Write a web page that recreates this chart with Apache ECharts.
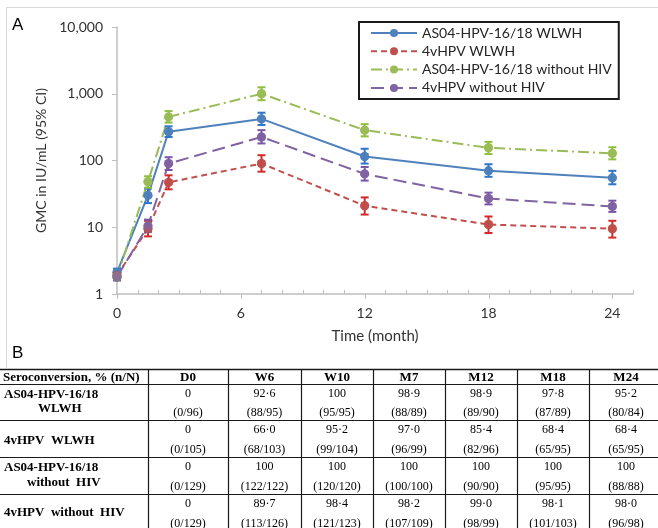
<!DOCTYPE html>
<html><head><meta charset="utf-8">
<script src="https://cdn.jsdelivr.net/npm/echarts@6/dist/echarts.min.js"></script>
<style>html,body{margin:0;padding:0;background:#fff}#c{width:658px;height:528px}</style>
</head><body><div id="c"></div>
<script>
// ---------- chart data ----------
const months = [0, 1.5, 2.5, 7, 12, 18, 24];
const seriesNames = ['AS04-HPV-16/18 WLWH', '4vHPV WLWH', 'AS04-HPV-16/18 without HIV', '4vHPV without HIV'];
const gmcAS04WLWH = [2.1, 30, 270, 420, 115, 70, 55];
const loAS04WLWH  = [1.9, 23, 225, 340, 90, 57, 44];
const hiAS04WLWH  = [2.4, 38, 325, 520, 150, 88, 70];
const gmc4vWLWH   = [1.9, 9.5, 47, 90, 21, 11, 9.5];
const lo4vWLWH    = [1.7, 7.3, 37, 68, 15.5, 8.2, 7];
const hi4vWLWH    = [2.1, 12.5, 60, 120, 28, 14.5, 12.5];
const gmcAS04Neg  = [1.8, 48, 450, 1000, 285, 155, 128];
const loAS04Neg   = [1.6, 39, 370, 800, 230, 125, 104];
const hiAS04Neg   = [2.0, 58, 550, 1250, 350, 190, 158];
const gmc4vNeg    = [1.8, 10.5, 90, 225, 63, 27, 20.5];
const lo4vNeg     = [1.6, 8.5, 72, 180, 50, 22, 17];
const hi4vNeg     = [2.0, 13, 112, 285, 80, 33, 25];
const xTicks = [0, 6, 12, 18, 24];
const xMinorTicks = [1, 2, 3, 4, 5, 7, 8, 9, 10, 11, 13, 14, 15, 16, 17, 19, 20, 21, 22, 23, 25];
const yTickLabels = {1:'1', 10:'10', 100:'100', 1000:'1,000', 10000:'10,000'};

// ---------- table data ----------
const tableHeaders = ['Seroconversion, % (n/N)', 'D0', 'W6', 'W10', 'M7', 'M12', 'M18', 'M24'];
const rowLabels = [['AS04-HPV-16/18', 'WLWH'], ['4vHPV  WLWH'], ['AS04-HPV-16/18', 'without  HIV'], ['4vHPV  without  HIV']];
const pctAS04WLWH = ['0', '92·6', '100', '98·9', '98·9', '97·8', '95·2'];
const nNAS04WLWH  = ['(0/96)', '(88/95)', '(95/95)', '(88/89)', '(89/90)', '(87/89)', '(80/84)'];
const pct4vWLWH   = ['0', '66·0', '95·2', '97·0', '85·4', '68·4', '68·4'];
const nN4vWLWH    = ['(0/105)', '(68/103)', '(99/104)', '(96/99)', '(82/96)', '(65/95)', '(65/95)'];
const pctAS04Neg  = ['0', '100', '100', '100', '100', '100', '100'];
const nNAS04Neg   = ['(0/129)', '(122/122)', '(120/120)', '(100/100)', '(90/90)', '(95/95)', '(88/88)'];
const pct4vNeg    = ['0', '89·7', '98·4', '98·2', '99·0', '98·1', '98·0'];
const nN4vNeg     = ['(0/129)', '(113/126)', '(121/123)', '(107/109)', '(98/99)', '(101/103)', '(96/98)'];

const colors = ['#4f81bd', '#c0504d', '#9bbb59', '#8064a2'];
const errColors = ['#2f75c8', '#d42a2a', '#8fbf3f', '#7a55a8'];
const dashes = ['solid', [6, 4], [11, 4, 2, 4], [13, 6]];
const gmcs = [gmcAS04WLWH, gmc4vWLWH, gmcAS04Neg, gmc4vNeg];
const los = [loAS04WLWH, lo4vWLWH, loAS04Neg, lo4vNeg];
const his = [hiAS04WLWH, hi4vWLWH, hiAS04Neg, hi4vNeg];
const pcts = [pctAS04WLWH, pct4vWLWH, pctAS04Neg, pct4vNeg];
const nNs = [nNAS04WLWH, nN4vWLWH, nNAS04Neg, nN4vNeg];

const sansFont = 'Lato';

function errSeries(idx) {
  const color = errColors[idx];
  return {
    type: 'custom', name: seriesNames[idx] + ' CI', silent: true, z: 3,
    data: months.map((m, i) => [m, los[idx][i], his[idx][i]]),
    encode: { x: 0, y: [1, 2] },
    renderItem(params, api) {
      const x = api.value(0);
      const p1 = api.coord([x, api.value(1)]);
      const p2 = api.coord([x, api.value(2)]);
      const w = 4;
      const st = { stroke: color, lineWidth: 2 };
      return { type: 'group', children: [
        { type: 'line', shape: { x1: p1[0], y1: p1[1], x2: p2[0], y2: p2[1] }, style: st },
        { type: 'line', shape: { x1: p1[0] - w, y1: p1[1], x2: p1[0] + w, y2: p1[1] }, style: st },
        { type: 'line', shape: { x1: p2[0] - w, y1: p2[1], x2: p2[0] + w, y2: p2[1] }, style: st }
      ]};
    }
  };
}

// axis tick marks (major below, minor above the axis line)
function tickSeries(list, up, down) {
  return {
    type: 'custom', name: 'ticks', silent: true, z: 1, clip: false,
    data: list.map(m => [m, 1]),
    encode: { x: 0, y: 1 },
    renderItem(params, api) {
      const p = api.coord([api.value(0), 1]);
      const x = Math.round(p[0]) + 0.5;
      return { type: 'line', shape: { x1: x, y1: p[1] - up, x2: x, y2: p[1] + down },
        style: { stroke: '#bfbfbf', lineWidth: 1 } };
    }
  };
}

const series = [];
seriesNames.forEach((name, idx) => {
  series.push({
    type: 'line', name, z: 2,
    data: months.map((m, i) => [m, gmcs[idx][i]]),
    symbol: 'circle', symbolSize: 9, showAllSymbol: true,
    itemStyle: { color: colors[idx] },
    lineStyle: { color: colors[idx], width: 2, type: dashes[idx] }
  });
});
seriesNames.forEach((name, idx) => series.push(errSeries(idx)));
seriesNames.forEach((name, idx) => {
  series.push({
    type: 'scatter', name: name + ' pt', z: 4, silent: true,
    data: months.map((m, i) => [m, gmcs[idx][i]]),
    symbol: 'circle', symbolSize: 9, itemStyle: { color: colors[idx] }
  });
});
series.push(tickSeries(xTicks, 0, 5));
series.push(tickSeries(xMinorTicks, 4, 0));

// ---------- table graphic ----------
const colX = [0, 148, 228, 301, 373, 445, 517, 589, 663];
const rowY = [369, 384, 420, 457, 494, 531];
const g = [];
g.push({ type: 'line', shape: { x1: 6, y1: 7.5, x2: 658, y2: 7.5 }, style: { stroke: '#d9d9d9', lineWidth: 1 } });
g.push({ type: 'line', shape: { x1: 6.5, y1: 7, x2: 6.5, y2: 368 }, style: { stroke: '#d9d9d9', lineWidth: 1 } });
g.push({ type: 'text', left: 12, top: 17, style: { text: 'A', font: '17px "Liberation Sans"', fill: '#000' } });
g.push({ type: 'text', left: 12, top: 345, style: { text: 'B', font: '17px "Liberation Sans"', fill: '#000' } });
rowY.slice(0, 5).forEach((y, i) => {
  g.push({ type: 'line', shape: { x1: 0, y1: y + 0.5, x2: 658, y2: y + 0.5 }, style: { stroke: '#1a1a1a', lineWidth: i === 0 ? 1.6 : 1.2 } });
});
colX.slice(1, 8).forEach(x => {
  g.push({ type: 'line', shape: { x1: x + 0.5, y1: rowY[0], x2: x + 0.5, y2: 528 }, style: { stroke: '#1a1a1a', lineWidth: 1.2 } });
});
tableHeaders.forEach((h, c) => {
  const cx = c === 0 ? 3 : (colX[c] + colX[c + 1]) / 2;
  g.push({ type: 'text', x: cx, y: (rowY[0] + rowY[1]) / 2 + 1,
    style: { text: h, font: 'bold 13px "Liberation Serif"', fill: '#000', align: c === 0 ? 'left' : 'center', verticalAlign: 'middle' } });
});
const labelLayout = [
  [[4, 395], [38, 409]],
  [[4, 441]],
  [[4, 468], [27, 483]],
  [[4, 513]]
];
rowLabels.forEach((lines, r) => {
  lines.forEach((t, k) => {
    const p = labelLayout[r][k];
    g.push({ type: 'text', x: p[0], y: p[1],
      style: { text: t, font: 'bold 13px "Liberation Serif"', fill: '#000', align: 'left', verticalAlign: 'middle' } });
  });
});
pcts.forEach((row, r) => {
  row.forEach((v, c) => {
    const cx = (colX[c + 1] + colX[c + 2]) / 2;
    g.push({ type: 'text', x: cx, y: rowY[r + 1] + 10,
      style: { text: v, font: '12px "Liberation Serif"', fill: '#000', align: 'center', verticalAlign: 'middle' } });
    g.push({ type: 'text', x: cx, y: rowY[r + 2] - 7.5,
      style: { text: nNs[r][c], font: '12px "Liberation Serif"', fill: '#000', align: 'center', verticalAlign: 'middle' } });
  });
});

const chart = echarts.init(document.getElementById('c'), null, { renderer: 'canvas' });
chart.setOption({
  animation: false,
  backgroundColor: '#fff',
  grid: { left: 117, right: 25, top: 27, bottom: 234, containLabel: false },
  legend: {
    data: seriesNames, orient: 'vertical', left: 359, top: 22,
    itemWidth: 46, itemHeight: 10, itemGap: 2.3,
    padding: [3, 7, 3, 11],
    borderColor: '#1a1a1a', borderWidth: 2, backgroundColor: '#fff',
    textStyle: { fontFamily: sansFont, fontSize: 14, color: '#262626', lineHeight: 16 }
  },
  xAxis: {
    type: 'value', min: 0, max: 25, interval: 1,
    name: 'Time (month)', nameLocation: 'middle', nameGap: 35,
    nameTextStyle: { fontFamily: sansFont, fontSize: 15, color: '#333' },
    axisLine: { show: true, onZero: false, lineStyle: { color: '#bfbfbf', width: 1.5 } },
    axisTick: { show: false },
    splitLine: { show: false },
    axisLabel: { fontFamily: sansFont, fontSize: 14, color: '#333', margin: 12, showMaxLabel: false,
      formatter: v => xTicks.includes(v) ? String(v) : '' }
  },
  yAxis: {
    type: 'log', logBase: 10, min: 1, max: 10000,
    name: 'GMC in IU/mL (95% CI)', nameLocation: 'middle', nameGap: 69,
    nameTextStyle: { fontFamily: sansFont, fontSize: 14, color: '#333' },
    axisLine: { show: true, lineStyle: { color: '#bfbfbf', width: 1.5 } },
    axisTick: { show: true, length: 5, lineStyle: { color: '#bfbfbf' } },
    splitLine: { show: false },
    axisLabel: { fontFamily: sansFont, fontSize: 14, color: '#333', margin: 14,
      formatter: v => yTickLabels[Math.round(v)] || '' }
  },
  series,
  graphic: g
});
</script></body></html>
